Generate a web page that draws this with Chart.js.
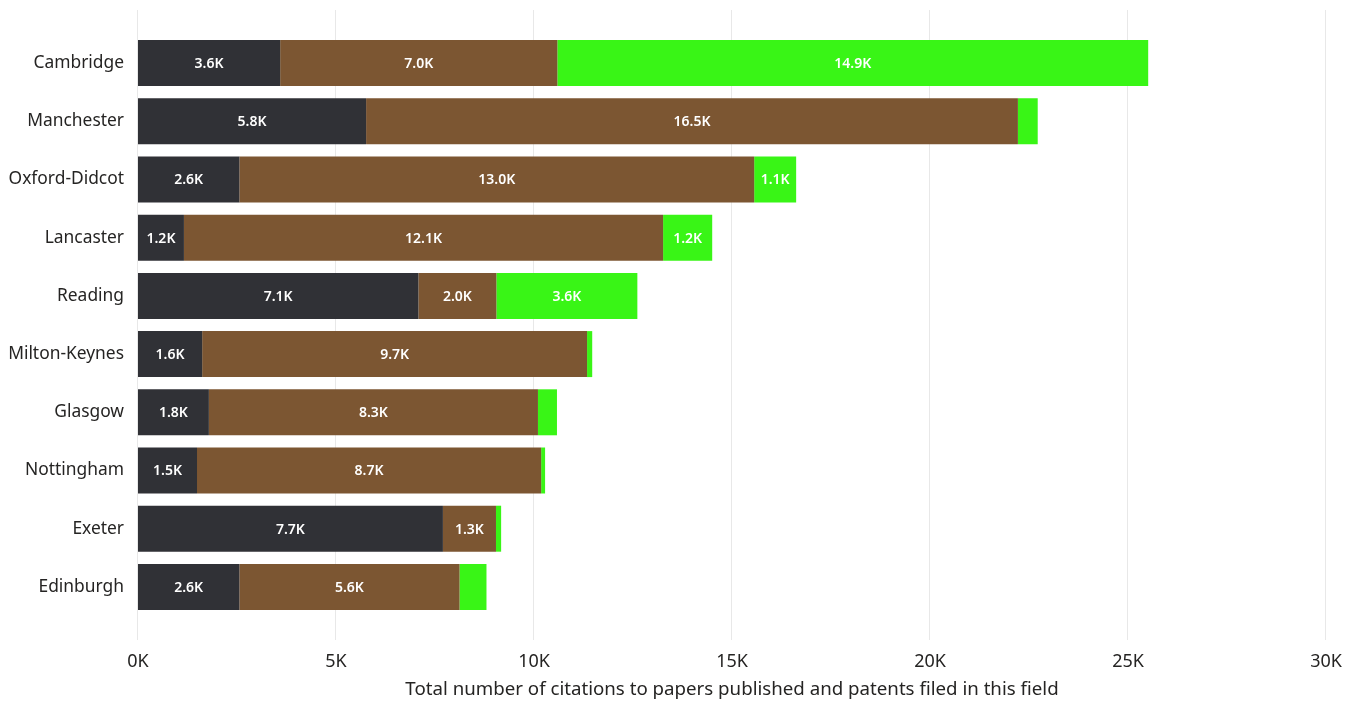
<!DOCTYPE html>
<html>
<head>
<meta charset="utf-8">
<script src="https://cdn.jsdelivr.net/npm/chart.js@4"></script>
<style>
  html, body { margin: 0; padding: 0; background: #fff; }
  #wrap { width: 1363px; height: 702px; }
</style>
</head>
<body>
<div id="wrap"><canvas id="myChart" width="1363" height="702"></canvas></div>
<script>
// citations per city, split in three parts
const cities = ['Cambridge', 'Manchester', 'Oxford-Didcot', 'Lancaster', 'Reading',
  'Milton-Keynes', 'Glasgow', 'Nottingham', 'Exeter', 'Edinburgh'];
const darkPart = [3590, 5760, 2560, 1160, 7080, 1620, 1790, 1490, 7700, 2560];
const brownPart = [7000, 16460, 13000, 12100, 1970, 9720, 8310, 8690, 1340, 5560];
const greenPart = [14920, 500, 1060, 1240, 3560, 130, 480, 100, 130, 680];
const xTicks = [0, 5000, 10000, 15000, 20000, 25000, 30000];

const fontFamily = '"Noto Sans", "Open Sans", sans-serif';

function fmtK(v) {
  return (v / 1000).toFixed(1) + 'K';
}

// vertical grid lines that run past the plot area, like the original
const tallGrid = {
  id: 'tallGrid',
  beforeDatasetsDraw(chart) {
    const ctx = chart.ctx;
    const x = chart.scales.x;
    ctx.save();
    ctx.strokeStyle = '#e8e8e8';
    ctx.lineWidth = 1;
    xTicks.forEach(t => {
      const px = Math.round(x.getPixelForValue(t)) - 0.5;
      ctx.beginPath();
      ctx.moveTo(px, 10);
      ctx.lineTo(px, 640);
      ctx.stroke();
    });
    ctx.restore();
  }
};

// white value labels inside each segment when there is room
const segLabels = {
  id: 'segLabels',
  afterDatasetsDraw(chart) {
    const ctx = chart.ctx;
    ctx.save();
    ctx.font = '600 14px ' + fontFamily;
    ctx.fillStyle = '#ffffff';
    ctx.textAlign = 'center';
    ctx.textBaseline = 'middle';
    chart.data.datasets.forEach((ds, i) => {
      chart.getDatasetMeta(i).data.forEach((bar, j) => {
        const w = Math.abs(bar.x - bar.base);
        const txt = fmtK(ds.data[j]);
        if (ctx.measureText(txt).width + 8 > w) return;
        ctx.fillText(txt, (bar.x + bar.base) / 2, bar.y + 1);
      });
    });
    ctx.restore();
  }
};

const ctx = document.getElementById('myChart').getContext('2d');

const myChart = new Chart(ctx, {
  type: 'bar',
  data: {
    labels: cities,
    datasets: [
      { label: 'Part 1', data: darkPart, backgroundColor: '#303136' },
      { label: 'Part 2', data: brownPart, backgroundColor: '#7c5632' },
      { label: 'Part 3', data: greenPart, backgroundColor: '#39f516' }
    ]
  },
  options: {
    indexAxis: 'y',
    responsive: false,
    animation: false,
    layout: { padding: { top: 34, right: 37, bottom: 0, left: 0 } },
    datasets: {
      bar: { barPercentage: 0.79, categoryPercentage: 1.0 }
    },
    plugins: {
      legend: { display: false },
      tooltip: { enabled: false }
    },
    scales: {
      x: {
        stacked: true,
        min: 0,
        max: 30000,
        afterBuildTicks: (scale) => {
          scale.ticks = xTicks.map(v => ({ value: v }));
        },
        afterFit: (scale) => {
          scale.height = 86;
          scale.paddingLeft = 0;
          scale.paddingRight = 0;
        },
        grid: { display: false, drawTicks: false },
        border: { display: false },
        ticks: {
          padding: 35,
          color: '#252423',
          font: { family: fontFamily, size: 18 },
          callback: (v) => (v / 1000) + 'K'
        },
        title: {
          display: true,
          text: 'Total number of citations to papers published and patents filed in this field',
          color: '#252423',
          font: { family: fontFamily, size: 18.7 },
          padding: { top: 0, bottom: 1 }
        }
      },
      y: {
        stacked: true,
        afterFit: (scale) => { scale.width = 138; },
        grid: { display: false, drawTicks: false },
        border: { display: false },
        ticks: {
          padding: 14,
          color: '#252423',
          font: { family: fontFamily, size: 17.4 }
        }
      }
    }
  },
  plugins: [tallGrid, segLabels]
});
</script>
</body>
</html>
